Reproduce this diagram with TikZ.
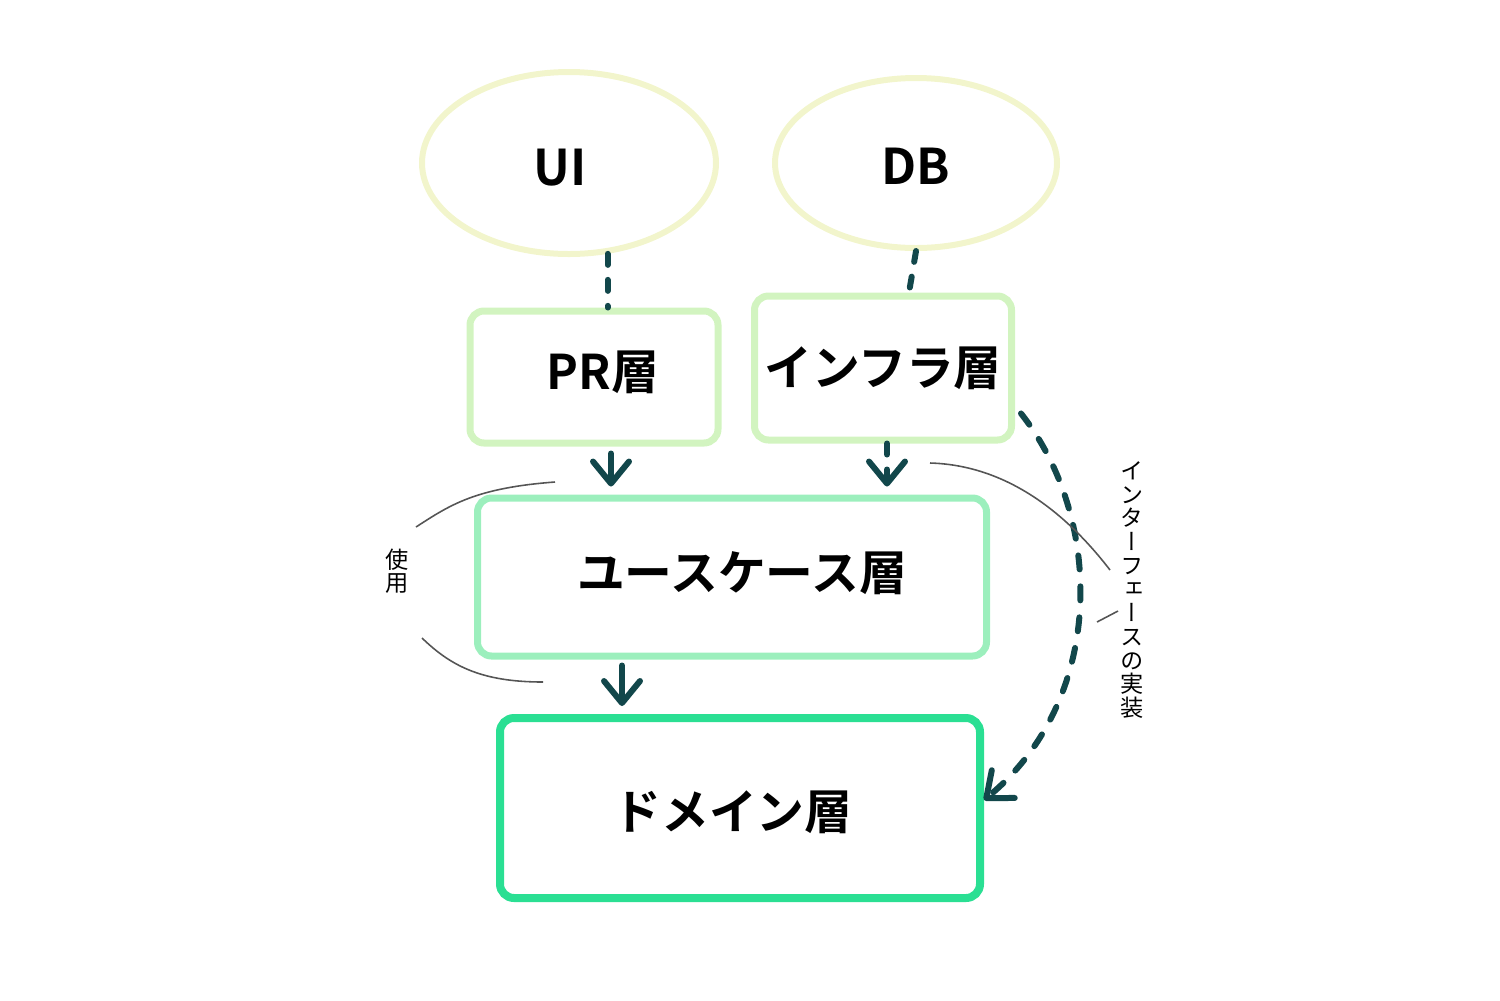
\documentclass[tikz,border=0pt]{standalone}
\usepackage{fontspec}
\usetikzlibrary{arrows.meta,calc,shapes.geometric}
\newfontfamily\jp{Noto Sans CJK JP}[BoldFont={Noto Sans CJK JP Bold}]
\newfontfamily\jpv{Noto Sans CJK JP}[RawFeature=+vert]
\definecolor{ellc}{HTML}{F2F5CC}
\definecolor{upc}{HTML}{D2F4C0}
\definecolor{ucc}{HTML}{9CEFBD}
\definecolor{domc}{HTML}{2ADF93}
\definecolor{arrc}{HTML}{12474B}
\definecolor{grayc}{HTML}{555555}
\tikzset{
  blob/.style={ellipse, draw=ellc, line width=0.6mm, inner sep=0pt,
    font=\jp\bfseries\fontsize{14}{16}\selectfont},
  layer/.style={rectangle, rounded corners=1.4mm, line width=0.7mm, inner sep=0pt,
    font=\jp\bfseries\fontsize{13.6}{16}\selectfont},
  link/.style={draw=arrc, line width=0.6mm, line cap=round},
  dashlink/.style={link, dash pattern=on 1.1mm off 1.5mm},
  tipped/.style={-{Straight Barb[length=2.2mm,width=3.6mm,round]}},
  note/.style={draw=grayc, line width=0.45pt},
  small/.style={font=\jp\fontsize{6.6}{6.6}\selectfont, inner sep=0pt},
}
\begin{document}
\begin{tikzpicture}[x=0.1mm,y=-0.1mm]
\useasboundingbox (0,0) rectangle (1500,1000);
% ellipses
\node[blob, minimum width=29.4mm, minimum height=18.2mm] (ui) at (569,163) {};
\node[font=\jp\bfseries\fontsize{14}{16}\selectfont] (uit) at (560,168) {UI};
\node[blob, minimum width=28.2mm, minimum height=17mm] (db) at (916,163) {};
\node[font=\jp\bfseries\fontsize{14}{16}\selectfont] (dbt) at (916,166) {DB};
% layers
\node[layer, draw=upc, minimum width=24.8mm, minimum height=13.2mm] (pr) at (594,377) {};
\node[font=\jp\bfseries\fontsize{13.6}{16}\selectfont] (prt) at (603,372) {PR層};
\node[layer, draw=upc, minimum width=25.7mm, minimum height=14.4mm] (infra) at (883,368) {インフラ層};
\node[layer, draw=ucc, minimum width=50.9mm, minimum height=15.8mm] (uc) at (732,577) {};
\node[font=\jp\bfseries\fontsize{13.6}{16}\selectfont] (uct) at (742,573) {ユースケース層};
\node[layer, draw=domc, line width=0.8mm, minimum width=48mm, minimum height=18mm] (dom) at (740,808) {};
\node[font=\jp\bfseries\fontsize{13.6}{16}\selectfont] (domt) at (733,812) {ドメイン層};
% connectors
\draw[dashlink] (ui.-67) -- (ui.-67 |- pr.north);
\draw[dashlink] (db.south) -- ([xshift=-0.7mm]db.south |- infra.north);
\draw[link, tipped, shorten <=0.7mm, shorten >=0.8mm]
  ([xshift=1.7mm]pr.south) -- ([xshift=1.7mm]pr.south |- uc.north);
\draw[dashlink, tipped, shorten >=0.8mm]
  ([xshift=0.4mm]infra.south) -- ([xshift=0.4mm]infra.south |- uc.north);
\draw[link, tipped, shorten <=0.6mm, shorten >=0.8mm]
  ([xshift=-11mm]uc.south) -- ([xshift=-11mm]uc.south |- dom.north);
\draw[dashlink, dash pattern=on 1.4mm off 1.7mm, tipped]
  ([xshift=0.6mm]infra.-19) .. controls (1105,520) and (1105,700) .. ([yshift=0.8mm]dom.east);
% annotation brackets
\draw[note] (416,527) .. controls (450,505) and (475,488) .. (555,482);
\draw[note] (422,638) .. controls (450,665) and (480,682) .. (543,682);
\draw[note] (930,463) .. controls (1000,465) and (1060,505) .. (1110,570);
\draw[note] (1097,622) -- (1118,611);
% labels
\node[small, align=center] (use) at (397,571) {使\\用};
\node[small, font=\jpv\fontsize{6.6}{6.75}\selectfont, align=center] (impl) at (1132,590)
  {イ\\ン\\タ\\ー\\フ\\ェ\\ー\\ス\\の\\実\\装};
\end{tikzpicture}
\end{document}
